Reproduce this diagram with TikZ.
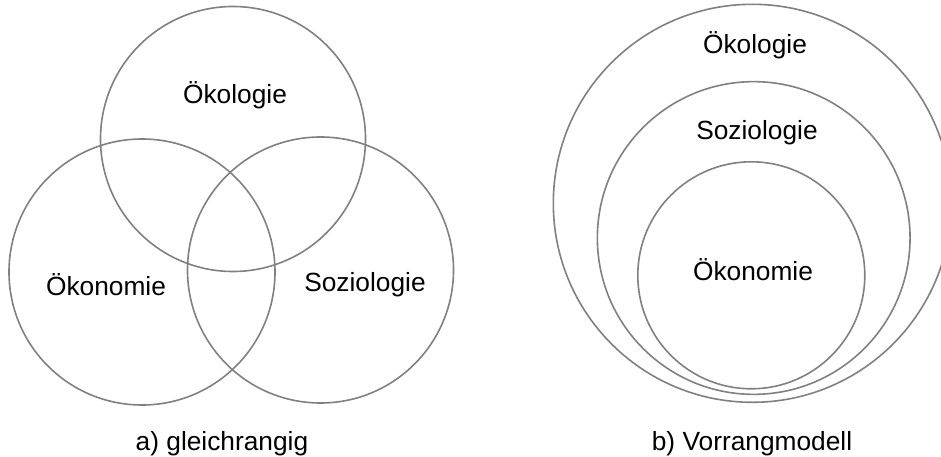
\documentclass[tikz,border=0pt]{standalone}
\usepackage{fontspec}
\setmainfont{Liberation Sans}
\usetikzlibrary{positioning}
\definecolor{ringgray}{RGB}{128,128,128}

\begin{document}
\begin{tikzpicture}[x=1pt, y=1pt, ring/.style={draw=ringgray, line width=1.6pt, circle, inner sep=0pt},
        lbl/.style={font=\fontsize{26.3}{30}\selectfont, inner sep=0pt}]
        \useasboundingbox (0,0) rectangle (941,456);

        % a) gleichrangig
        \node[ring, minimum size=265] (oekol) at (233,317) {};
        \node[ring, minimum size=266] (oekon) at (142,184) {};
        \node[ring, minimum size=266] (sozio) at (320.5,186) {};
        \node[lbl] (toekol) at (235,361) {Ökologie};
        \node[lbl] (toekon) at (106,171) {Ökonomie};
        \node[lbl] (tsozio) at (365,171) {Soziologie};
        \node[lbl] (capa) at (222,12.5) {a) gleichrangig};

        % b) Vorrangmodell
        \node[ring, minimum size=398] (oekolb) at (752.3,252.7) {};
        \node[ring, minimum size=312.7] (soziob) at (753.7,218) {};
        \node[ring, minimum size=227] (oekonb) at (751.3,180.7) {};
        \node[lbl] (toekolb) at (755,411) {Ökologie};
        \node[lbl] (tsoziob) at (757,323) {Soziologie};
        \node[lbl] (toekonb) at (753,186) {Ökonomie};
        \node[lbl] (capb) at (752,12.5) {b) Vorrangmodell};
    \end{tikzpicture}
\end{document}
